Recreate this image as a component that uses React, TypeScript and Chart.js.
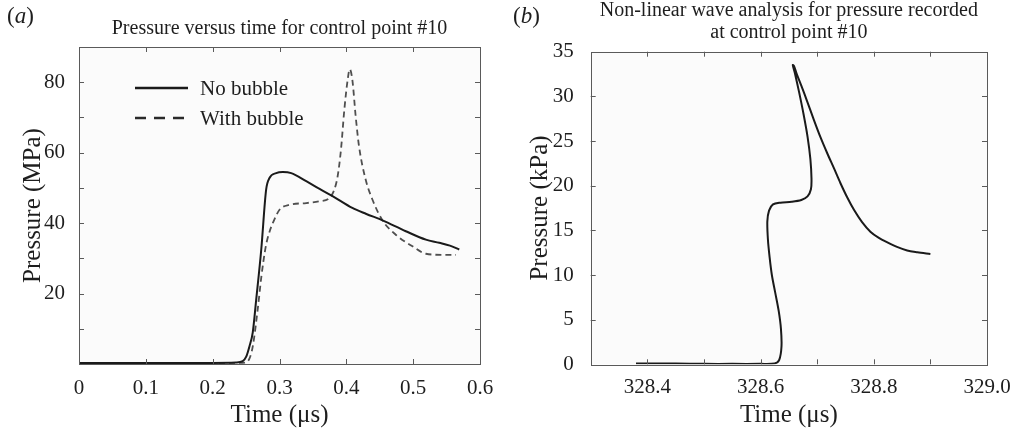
import React, { useEffect, useRef } from 'react';
import { Chart, registerables } from 'chart.js';

Chart.register(...registerables);

// ---------- Data ----------
// Panel (a): pressure (MPa) versus time (µs) for control point #10
const noBubbleTime = [0, 0.1, 0.2, 0.235, 0.245, 0.25, 0.255, 0.26, 0.265, 0.2727, 0.28, 0.285, 0.295, 0.305, 0.3175, 0.34, 0.36, 0.38, 0.409, 0.43, 0.454, 0.489, 0.519, 0.539, 0.555, 0.569];
const noBubblePressure = [0.3, 0.3, 0.3, 0.4, 0.8, 2, 5, 9, 18, 32.5, 49.5, 52.8, 54.2, 54.5, 54.2, 51.9, 49.7, 47.6, 44.3, 42.6, 40.8, 37.7, 35.3, 34.4, 33.6, 32.5];
const withBubbleTime = [0, 0.1, 0.2, 0.24, 0.25, 0.255, 0.26, 0.2677, 0.273, 0.2795, 0.285, 0.29, 0.3, 0.315, 0.34, 0.36, 0.3746, 0.382, 0.387, 0.392, 0.397, 0.402, 0.405, 0.409, 0.414, 0.419, 0.429, 0.439, 0.454, 0.474, 0.499, 0.519, 0.544, 0.564];
const withBubblePressure = [0.3, 0.3, 0.3, 0.3, 0.5, 1.5, 5, 16, 25, 33.4, 37.5, 40, 43.8, 45.2, 45.7, 46.2, 47.1, 49.5, 53.3, 60.9, 72.2, 80.7, 83.7, 80.7, 70.3, 61.8, 52.3, 46.7, 40.8, 36.7, 33.4, 31.3, 31, 31];
const seriesLabels = ['No bubble', 'With bubble'];

// Panel (b): non-linear wave analysis, pressure (kPa) versus time (µs)
const waveTime = [328.38, 328.45, 328.5, 328.55, 328.6, 328.625, 328.633, 328.637, 328.636, 328.632, 328.626, 328.62, 328.616, 328.613, 328.612, 328.615, 328.622, 328.635, 328.655, 328.672, 328.683, 328.689, 328.69, 328.688, 328.683, 328.676, 328.668, 328.661, 328.657, 328.659, 328.664, 328.672, 328.682, 328.694, 328.706, 328.718, 328.73, 328.741, 328.753, 328.765, 328.779, 328.794, 328.809, 328.824, 328.841, 328.859, 328.877, 328.9];
const wavePressure = [0.1, 0.1, 0.05, 0.05, 0.05, 0.1, 0.5, 2, 4, 6, 8, 10, 12, 14, 16, 17.2, 17.9, 18.1, 18.2, 18.4, 18.8, 19.6, 20.8, 23, 25.5, 28, 30.5, 32.5, 33.5, 33.4, 32.5, 31.2, 29.5, 27.4, 25.4, 23.6, 21.9, 20.3, 18.7, 17.3, 15.95, 14.85, 14.15, 13.65, 13.15, 12.75, 12.55, 12.35];

const titleA = 'Pressure versus time for control point #10';
const titleB = ['Non-linear wave analysis for pressure recorded', 'at control point #10'];
const xTitle = 'Time (μs)';
const yTitleA = 'Pressure (MPa)';
const yTitleB = 'Pressure (kPa)';

// ---------- Styling helpers ----------
const FONT = '"Liberation Serif", "Times New Roman", serif';
const TEXT = '#1e1e1e';
const AXIS = '#5a5a5a';

const zip = (xs: number[], ys: number[]) => xs.map((x, i) => ({ x, y: ys[i] }));

const framePlugin = {
  id: 'frame',
  beforeDraw(chart: any) {
    const { ctx, chartArea: a } = chart;
    ctx.save();
    ctx.fillStyle = '#fbfbfb';
    ctx.fillRect(a.left, a.top, a.right - a.left, a.bottom - a.top);
    ctx.restore();
  },
  afterDatasetsDraw(chart: any) {
    const { ctx, chartArea: a } = chart;
    const L = 5;
    ctx.save();
    ctx.strokeStyle = AXIS;
    ctx.lineWidth = 1;
    const xs = chart.scales.x;
    const ys = chart.scales.y;
    ctx.beginPath();
    xs.ticks.forEach((t: any) => {
      const p = Math.round(xs.getPixelForValue(t.value)) + 0.5;
      if (p <= a.left + 1 || p >= a.right - 1) return;
      ctx.moveTo(p, a.bottom);
      ctx.lineTo(p, a.bottom - L);
      ctx.moveTo(p, a.top);
      ctx.lineTo(p, a.top + L);
    });
    ys.ticks.forEach((t: any) => {
      const p = Math.round(ys.getPixelForValue(t.value)) + 0.5;
      if (p <= a.top + 1 || p >= a.bottom - 1) return;
      ctx.moveTo(a.left, p);
      ctx.lineTo(a.left + L, p);
      ctx.moveTo(a.right, p);
      ctx.lineTo(a.right - L, p);
    });
    ctx.stroke();
    ctx.strokeRect(Math.round(a.left) + 0.5, Math.round(a.top) + 0.5, Math.round(a.right - a.left), Math.round(a.bottom - a.top));
    ctx.restore();
  },
};

const inlineLegendPlugin = {
  id: 'inlineLegend',
  afterDatasetsDraw(chart: any, _args: any, opts: any) {
    if (!opts || !opts.show) return;
    const { ctx, chartArea: a } = chart;
    ctx.save();
    chart.data.datasets.forEach((ds: any, i: number) => {
      const y = a.top + opts.top + i * opts.spacing;
      const x0 = a.left + opts.left;
      ctx.strokeStyle = opts.colors[i];
      ctx.lineWidth = 2.5;
      ctx.setLineDash(opts.dashes[i]);
      ctx.beginPath();
      ctx.moveTo(x0, y);
      ctx.lineTo(x0 + opts.width, y);
      ctx.stroke();
      ctx.setLineDash([]);
      ctx.fillStyle = TEXT;
      ctx.font = `${opts.fontSize}px ${FONT}`;
      ctx.textBaseline = 'middle';
      ctx.textAlign = 'left';
      ctx.fillText(ds.label, x0 + opts.width + opts.gap, y + 1);
    });
    ctx.restore();
  },
};

const tickFont = { family: FONT, size: 21 };
const axisTitleFont = { family: FONT, size: 25, lineHeight: 1.2 };

function makeChartA(canvas: HTMLCanvasElement) {
  return new Chart(canvas, {
    type: 'scatter',
    data: {
      datasets: [
        {
          label: seriesLabels[0],
          data: zip(noBubbleTime, noBubblePressure),
          showLine: true,
          borderColor: '#1a1a1a',
          borderWidth: 2,
          pointRadius: 0,
          cubicInterpolationMode: 'monotone',
        },
        {
          label: seriesLabels[1],
          data: zip(withBubbleTime, withBubblePressure),
          showLine: true,
          borderColor: '#4f4f4f',
          borderWidth: 1.8,
          borderDash: [6, 4],
          pointRadius: 0,
          cubicInterpolationMode: 'monotone',
        },
      ],
    },
    options: {
      responsive: false,
      animation: false,
      events: [],
      layout: { padding: { left: 0, right: 20, top: 0, bottom: 0 } },
      plugins: {
        legend: { display: false },
        tooltip: { enabled: false },
        title: {
          display: true,
          fullSize: false,
          text: titleA,
          color: TEXT,
          font: { family: FONT, size: 20, weight: 'normal', lineHeight: 1.2 },
          padding: { top: 17, bottom: 6 },
        },
        inlineLegend: {
          show: true,
          left: 56,
          top: 41,
          spacing: 30,
          width: 53,
          gap: 12,
          fontSize: 21,
          colors: ['#1a1a1a', '#2a2a2a'],
          dashes: [[], [11, 8]],
        },
      } as any,
      scales: {
        x: {
          type: 'linear',
          min: 0,
          max: 0.6,
          afterFit: (s: any) => { s.height = 68; },
          grid: { display: false },
          border: { display: false },
          ticks: {
            stepSize: 0.1,
            padding: 4,
            color: TEXT,
            font: tickFont,
            maxRotation: 0,
            autoSkip: false,
            callback: (v: any) => (Math.abs(v) < 1e-9 ? '0' : Number(v).toFixed(1)),
          },
          title: { display: true, text: xTitle, color: TEXT, font: axisTitleFont, padding: { top: 0, bottom: 2 } },
        },
        y: {
          type: 'linear',
          min: 0,
          max: 90,
          afterFit: (s: any) => { s.width = 79; },
          grid: { display: false },
          border: { display: false },
          ticks: {
            stepSize: 10,
            padding: 6,
            color: TEXT,
            font: tickFont,
            autoSkip: false,
            callback: (v: any) => (v % 20 === 0 && v > 0 && v < 90 ? String(v) : ''),
          },
          title: { display: true, text: yTitleA, color: TEXT, font: axisTitleFont, padding: { top: 18, bottom: 0 } },
        },
      },
    } as any,
    plugins: [framePlugin, inlineLegendPlugin],
  });
}

function makeChartB(canvas: HTMLCanvasElement) {
  return new Chart(canvas, {
    type: 'scatter',
    data: {
      datasets: [
        {
          label: 'Pressure',
          data: zip(waveTime, wavePressure),
          showLine: true,
          borderColor: '#1a1a1a',
          borderWidth: 2,
          pointRadius: 0,
          tension: 0.3,
        },
      ],
    },
    options: {
      responsive: false,
      animation: false,
      events: [],
      layout: { padding: { left: 0, right: 32, top: 0, bottom: 0 } },
      plugins: {
        legend: { display: false },
        tooltip: { enabled: false },
        title: {
          display: true,
          fullSize: false,
          text: titleB,
          color: TEXT,
          font: { family: FONT, size: 20, weight: 'normal', lineHeight: 1.1 },
          padding: { top: 0, bottom: 7.7 },
        },
      },
      scales: {
        x: {
          type: 'linear',
          min: 328.3,
          max: 329.0,
          afterFit: (s: any) => { s.height = 67.7; },
          grid: { display: false },
          border: { display: false },
          ticks: {
            stepSize: 0.1,
            padding: 3,
            color: TEXT,
            font: tickFont,
            maxRotation: 0,
            autoSkip: false,
            callback: (v: any) => (Math.round(Number(v) * 10) % 2 === 0 ? Number(v).toFixed(1) : ''),
          },
          title: { display: true, text: xTitle, color: TEXT, font: axisTitleFont, padding: { top: 0, bottom: 2 } },
        },
        y: {
          type: 'linear',
          min: 0,
          max: 35,
          afterFit: (s: any) => { s.width = 90.7; },
          grid: { display: false },
          border: { display: false },
          ticks: {
            stepSize: 5,
            padding: 9,
            color: TEXT,
            font: tickFont,
            autoSkip: false,
          },
          title: { display: true, text: yTitleB, color: TEXT, font: axisTitleFont, padding: { top: 25, bottom: 0 } },
        },
      },
    } as any,
    plugins: [framePlugin],
  });
}

export default function App() {
  const refA = useRef<HTMLCanvasElement>(null);
  const refB = useRef<HTMLCanvasElement>(null);

  useEffect(() => {
    const a = refA.current ? makeChartA(refA.current) : null;
    const b = refB.current ? makeChartB(refB.current) : null;
    return () => {
      a?.destroy();
      b?.destroy();
    };
  }, []);

  const panelLabel: React.CSSProperties = {
    position: 'absolute',
    top: 4,
    fontFamily: FONT,
    fontSize: 23,
    lineHeight: '23px',
    color: TEXT,
  };

  return (
    <div style={{ position: 'absolute', left: 0, top: 0, width: 1019, height: 432, background: '#ffffff', overflow: 'hidden' }}>
      <canvas ref={refA} width={500} height={432} style={{ position: 'absolute', left: 0, top: 0, width: 500, height: 432 }} />
      <canvas ref={refB} width={519} height={432} style={{ position: 'absolute', left: 500, top: 0, width: 519, height: 432 }} />
      <div style={{ ...panelLabel, left: 7 }}>(<i>a</i>)</div>
      <div style={{ ...panelLabel, left: 513 }}>(<i>b</i>)</div>
    </div>
  );
}
